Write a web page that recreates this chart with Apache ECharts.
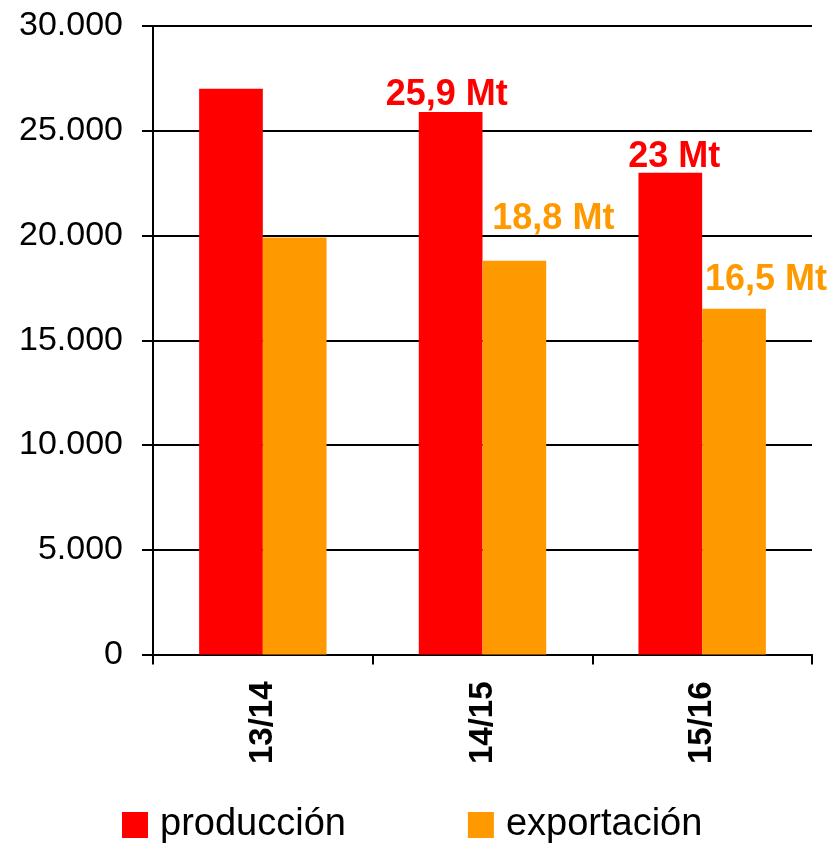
<!DOCTYPE html>
<html>
<head>
<meta charset="utf-8">
<script src="https://cdn.jsdelivr.net/npm/echarts@6/dist/echarts.min.js"></script>
<style>html,body{margin:0;padding:0;background:#fff;}#c{width:832px;height:845px;}</style>
</head>
<body>
<div id="c"></div>
<script>
const categories = ['13/14', '14/15', '15/16'];
const produccion = [27000, 25900, 23000];
const exportacion = [19900, 18800, 16500];
const prodLabels = ['', '25,9 Mt', '23 Mt'];
const expLabels = ['', '18,8 Mt', '16,5 Mt'];
const seriesNames = ['producción', 'exportación'];
const yTicks = { min: 0, max: 30000, interval: 5000 };

const FONT = '"Liberation Sans", Arial, sans-serif';
const prodOffsets = [[0, 0], [-4, 1], [4, 2]];
const expOffsets = [[0, 0], [39, -24], [32, -11]];

function mkData(vals, labels, offsets, color) {
  return vals.map((v, i) => ({
    value: v,
    label: labels[i] ? {
      show: true, position: 'top', distance: 0, formatter: labels[i],
      offset: offsets[i], color: color, fontSize: 36, fontWeight: 'bold', fontFamily: FONT
    } : { show: false }
  }));
}

const chart = echarts.init(document.getElementById('c'), null, { renderer: 'canvas' });
chart.setOption({
  animation: false,
  textStyle: { fontFamily: FONT },
  grid: { left: 153, right: 20, top: 26, bottom: 190.5, containLabel: false },
  legend: {
    top: 801, left: 117,
    itemWidth: 26, itemHeight: 26, itemGap: 122,
    textStyle: { fontSize: 38, color: '#000', fontFamily: FONT, padding: [0, 0, 0, 7] },
    icon: 'rect',
    data: seriesNames
  },
  xAxis: {
    type: 'category', data: categories,
    axisLine: { lineStyle: { color: '#000', width: 2 } },
    axisTick: { show: true, length: 10, lineStyle: { color: '#000', width: 2 } },
    axisLabel: { rotate: 90, margin: 27, fontSize: 33, fontWeight: 'bold', color: '#000', fontFamily: FONT },
    splitLine: { show: false }
  },
  yAxis: {
    type: 'value', min: yTicks.min, max: yTicks.max, interval: yTicks.interval,
    axisLine: { show: true, lineStyle: { color: '#000', width: 2 } },
    axisTick: { show: true, length: 11, lineStyle: { color: '#000', width: 2 } },
    axisLabel: {
      margin: 30, fontSize: 34, color: '#000', fontFamily: FONT,
      formatter: v => String(v).replace(/\B(?=(\d{3})+(?!\d))/g, '.')
    },
    splitLine: { lineStyle: { color: '#000', width: 2 } }
  },
  series: [
    { name: seriesNames[0], type: 'bar', data: mkData(produccion, prodLabels, prodOffsets, '#FF0000'),
      itemStyle: { color: '#FF0000' }, barGap: '0%', barCategoryGap: '42%' },
    { name: seriesNames[1], type: 'bar', data: mkData(exportacion, expLabels, expOffsets, '#FF9900'),
      itemStyle: { color: '#FF9900' }, barGap: '0%', barCategoryGap: '42%' }
  ]
});
</script>
</body>
</html>
